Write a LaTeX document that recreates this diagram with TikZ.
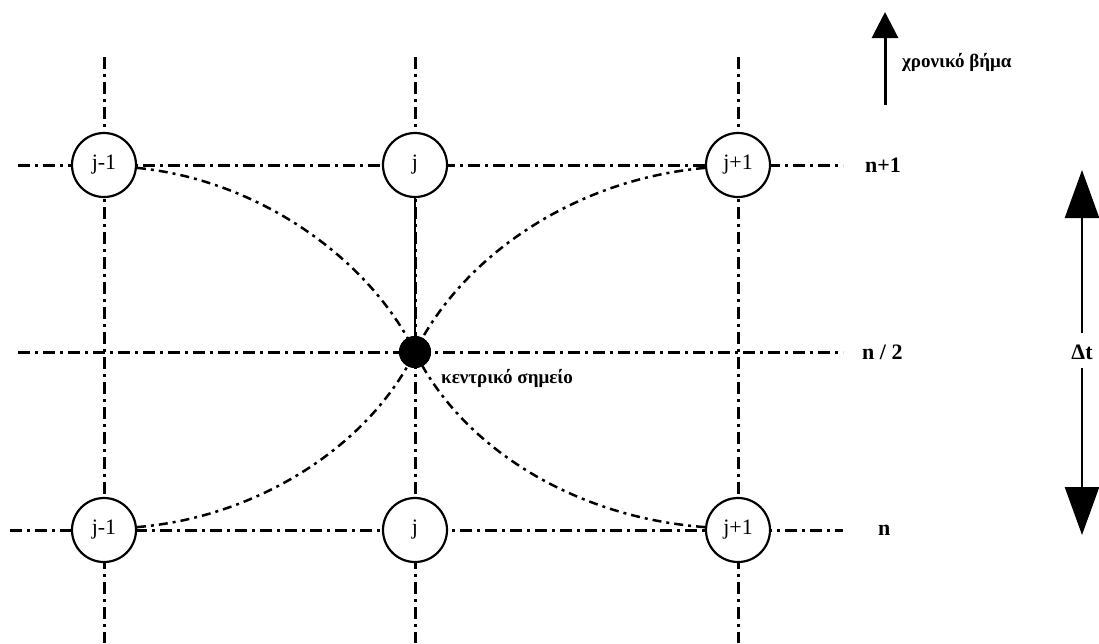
\documentclass[tikz,border=0pt]{standalone}
\usepackage{fontspec}
\setmainfont{Liberation Serif}
\usetikzlibrary{arrows.meta}
\begin{document}
\begin{tikzpicture}[x=1pt,y=-1pt,
  grid/.style={line width=3pt,dash pattern=on 12pt off 5pt on 3pt off 5pt},
  curve/.style={line width=2.5pt,dash pattern=on 9pt off 5pt on 3pt off 5pt},
  pt/.style={circle,draw,line width=2.2pt,fill=white,minimum size=64pt,inner sep=0pt,font=\fontsize{22}{26}\selectfont},
  lbl/.style={font=\bfseries\fontsize{19}{22}\selectfont,inner sep=0pt},
  nlbl/.style={font=\bfseries\fontsize{22}{26}\selectfont,inner sep=0pt},
  bigtip/.style={-{Triangle[width=34pt,length=48pt]},line width=2.6pt}
]
\useasboundingbox (0,0) rectangle (1099,643);
% grid lines
\coordinate (h1a) at (18,165); \coordinate (h1b) at (843,165);
\coordinate (h2a) at (18,352); \coordinate (h2b) at (843,352);
\coordinate (h3a) at (10,530); \coordinate (h3b) at (843,530);
\coordinate (v1a) at (104,57); \coordinate (v1b) at (104,643);
\coordinate (v2a) at (415,57); \coordinate (v2b) at (415,643);
\coordinate (v3a) at (738,57); \coordinate (v3b) at (738,643);
\draw[grid] (h1a) -- (h1b);
\draw[grid] (h2a) -- (h2b);
\draw[grid] (h3a) -- (h3b);
\draw[grid] (v1a) -- (v1b);
\draw[grid] (v2a) -- (v2b);
\draw[grid] (v3a) -- (v3b);
% nodes
\node[pt] (tl) at (104,165) {j-1};
\node[pt] (tc) at (415,165) {j};
\node[pt] (tr) at (738,165) {j+1};
\node[pt] (bl) at (104,530) {j-1};
\node[pt] (bc) at (415,530) {j};
\node[pt] (br) at (738,530) {j+1};
\node[circle,fill=black,minimum size=32pt,inner sep=0pt] (c) at (415,352) {};
% curves
\draw[curve] (tl.-5) .. controls (260,180) and (370,260) .. (c.center);
\draw[curve] (tr.185) .. controls (570,180) and (460,260) .. (c.center);
\draw[curve] (bl.5) .. controls (260,517) and (370,444) .. (c.center);
\draw[curve] (br.175) .. controls (570,517) and (460,444) .. (c.center);
\draw[line width=2.4pt] (tc.south) -- (c.center);
\node[circle,fill=black,minimum size=32pt,inner sep=0pt] at (c) {};
% labels
\node[lbl,anchor=west] (kl) at (441,378) {κεντρικό σημείο};
\node[nlbl,anchor=west] (n1) at (865,165) {n+1};
\node[nlbl,anchor=west] (n2) at (862,352) {n / 2};
\node[nlbl,anchor=west] (n0) at (878,530) {n};
% time step arrow
\coordinate (ta) at (885,105);
\coordinate (tb) at (885,12);
\draw[-{Triangle[width=26pt,length=26pt]},line width=3pt] (ta) -- (tb);
\node[lbl,anchor=west] (ts) at (902,62) {χρονικό βήμα};
% delta t
\node[nlbl] (dt) at (1082,352) {Δt};
\coordinate (dtu) at (1082,170);
\coordinate (dtd) at (1082,535);
\draw[bigtip] (1082,333) -- (dtu);
\draw[bigtip] (1082,368) -- (dtd);
\end{tikzpicture}
\end{document}
